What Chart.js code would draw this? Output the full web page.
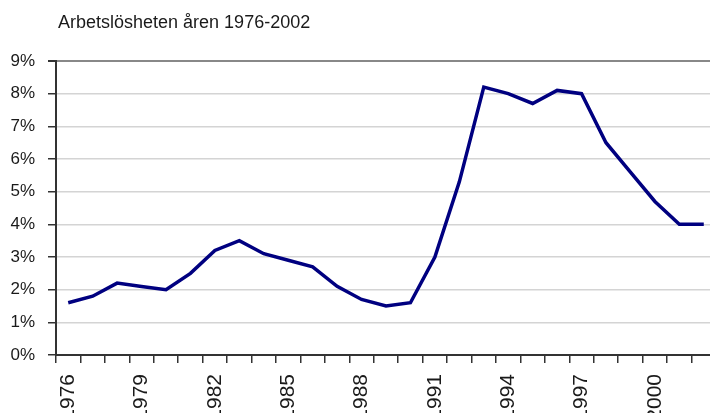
<!DOCTYPE html>
<html>
<head>
<meta charset="utf-8">
<script src="https://cdn.jsdelivr.net/npm/chart.js@4/dist/chart.umd.min.js"></script>
<style>
  html, body { margin: 0; padding: 0; background: #fff; overflow: hidden; }
  #wrap { position: relative; width: 716px; height: 450px; }
  #title {
    position: absolute; left: 58px; top: 12px;
    font: 18px "Liberation Sans", Arial, sans-serif; color: #1a1a1a;
  }
</style>
</head>
<body>
<div id="wrap">
  <div id="title">Arbetslösheten åren 1976-2002</div>
  <canvas id="unemploymentChart"></canvas>
</div>
<script>
// Arbetslöshet i procent, 1976-2002
const years = [
  "1976", "1977", "1978", "1979", "1980", "1981", "1982", "1983", "1984",
  "1985", "1986", "1987", "1988", "1989", "1990", "1991", "1992", "1993",
  "1994", "1995", "1996", "1997", "1998", "1999", "2000", "2001", "2002"
]
const unemployment = [
  1.6, 1.8, 2.2, 2.1, 2.0, 2.5, 3.2, 3.5, 3.1,
  2.9, 2.7, 2.1, 1.7, 1.5, 1.6, 3.0, 5.3, 8.2,
  8.0, 7.7, 8.1, 8.0, 6.5, 5.6, 4.7, 4.0, 4.0
]
const yTicks = [0, 1, 2, 3, 4, 5, 6, 7, 8, 9]

const axisColor = "#333"
const gridColor = "#d4d4d4"
const fontFamily = "'Liberation Sans', Arial, sans-serif"

const canvas = document.getElementById("unemploymentChart")
new Chart(canvas, {
  type: "line",
  data: {
    labels: years,
    datasets: [{
      label: "Arbetslöshet",
      data: unemployment,
      borderColor: "#000080",
      borderWidth: 3.5,
      pointRadius: 0,
      tension: 0,
      fill: false
    }]
  },
  options: {
    responsive: true,
    maintainAspectRatio: false,
    animation: false,
    layout: { padding: { top: 61, left: 0, right: 0, bottom: 0 } },
    plugins: { legend: { display: false }, tooltip: { enabled: false } },
    scales: {
      x: {
        offset: true,
        afterFit: (scale) => {
          scale.height = 95
          scale.paddingLeft = 0
          scale.paddingRight = 0
        },
        border: { display: true, color: axisColor, width: 2 },
        grid: {
          offset: true,
          drawOnChartArea: false,
          drawTicks: true,
          tickLength: 8,
          color: axisColor,
          lineWidth: 1.5
        },
        ticks: {
          autoSkip: false,
          minRotation: 90,
          maxRotation: 90,
          padding: 11,
          color: "#1a1a1a",
          font: { family: fontFamily, size: 21 },
          callback: (v, i) => (i % 3 === 0 ? years[i] : "")
        }
      },
      y: {
        min: 0,
        max: 9,
        afterFit: (scale) => { scale.width = 56 },
        afterBuildTicks: (scale) => { scale.ticks = yTicks.map((v) => ({ value: v })) },
        border: { display: true, color: axisColor, width: 2 },
        grid: {
          color: (ctx) => (ctx.tick && ctx.tick.value === 9 ? "#888" : gridColor),
          lineWidth: (ctx) => (ctx.tick && ctx.tick.value === 9 ? 2 : 1.5),
          tickColor: axisColor,
          tickLength: 8
        },
        ticks: {
          padding: 13,
          color: "#1a1a1a",
          font: { family: fontFamily, size: 17 },
          callback: (v) => v + "%"
        }
      }
    }
  }
})
</script>
</body>
</html>
